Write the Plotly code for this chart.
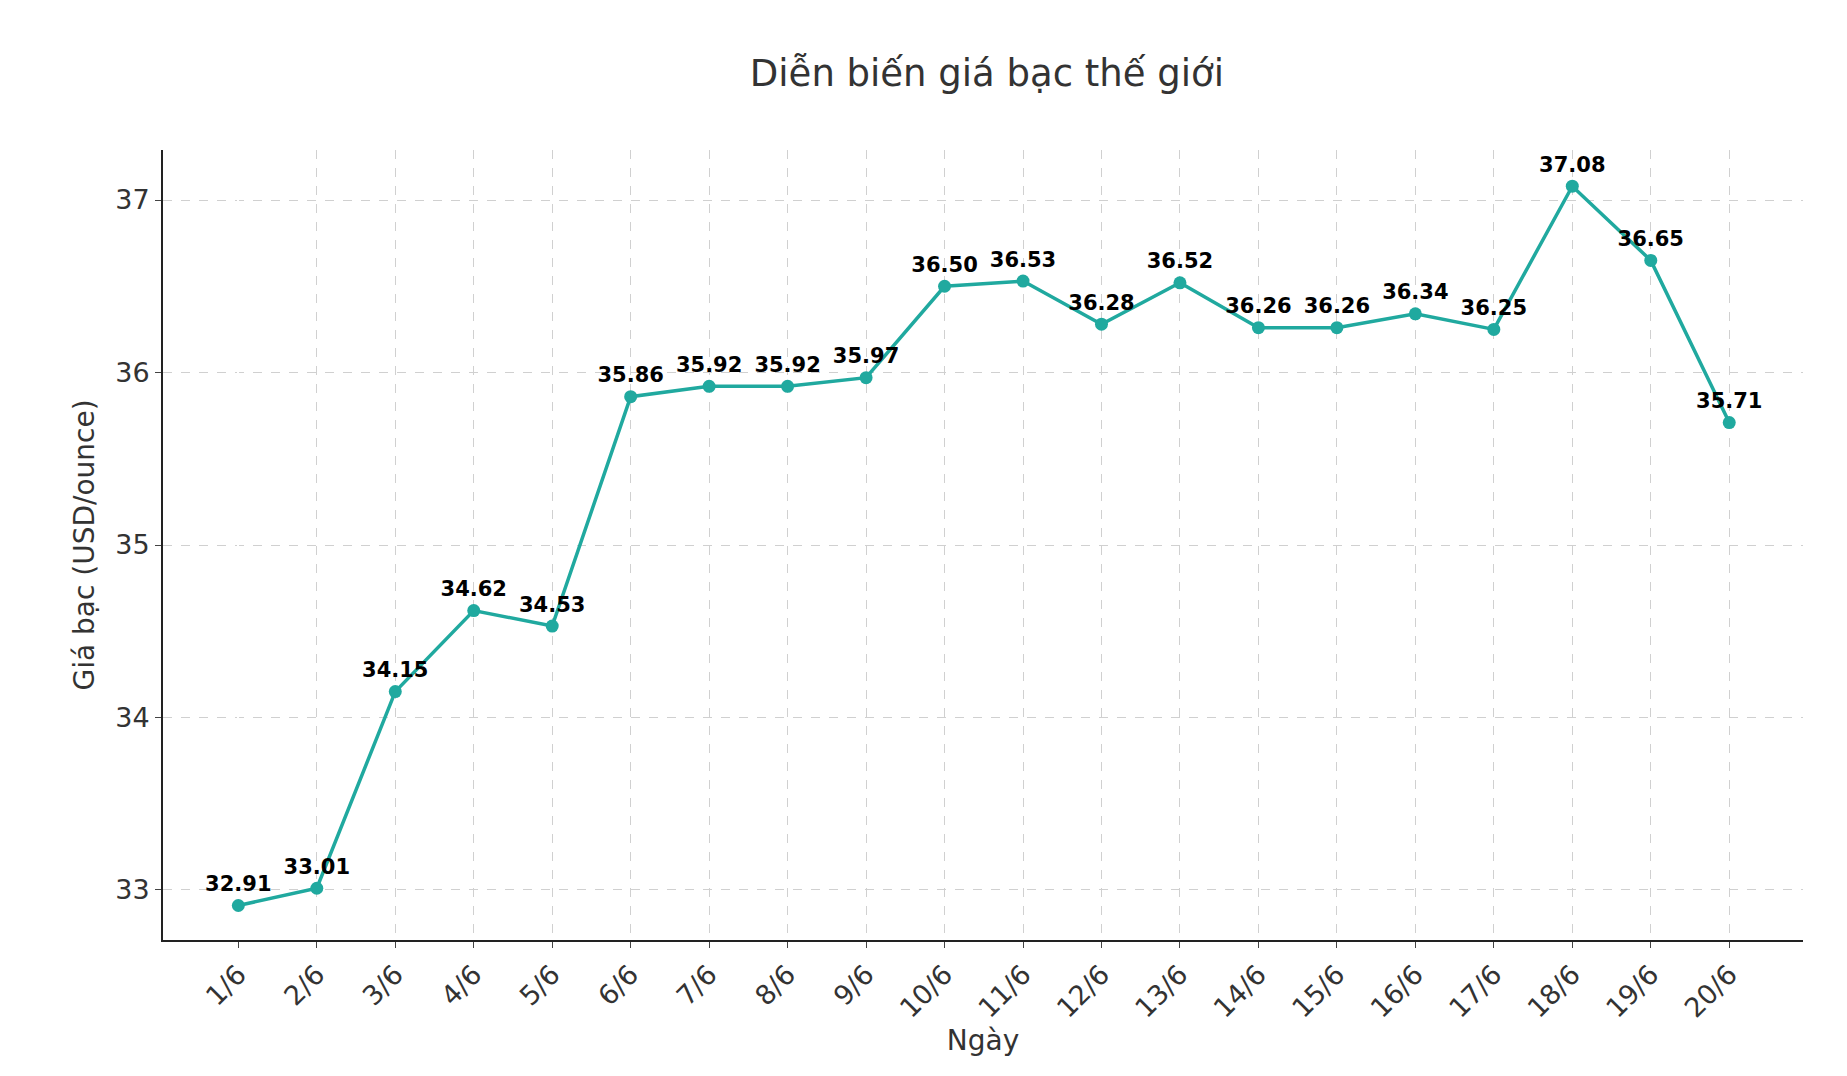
import plotly.graph_objects as go

days = [f"{i}/6" for i in range(1, 21)]
prices = [32.91, 33.01, 34.15, 34.62, 34.53, 35.86, 35.92, 35.92, 35.97, 36.50,
          36.53, 36.28, 36.52, 36.26, 36.26, 36.34, 36.25, 37.08, 36.65, 35.71]
labels = [f"{v:.2f}" for v in prices]

fig = go.Figure(go.Scatter(
    x=list(range(len(days))), y=prices, mode="lines+markers+text",
    line=dict(color="#20a99f", width=3.5), marker=dict(size=13, color="#20a99f"),
    text=["<b>%s</b>" % t for t in labels], textposition="top center",
    textfont=dict(family="DejaVu Sans", size=21, color="black"),
))
fig.update_layout(
    width=1847, height=1076, paper_bgcolor="white", plot_bgcolor="white",
    margin=dict(l=155, r=52, t=142, b=144),
    font=dict(family="DejaVu Sans", color="#333"),
    title=dict(text="Diễn biến giá bạc thế giới", x=0.53, xanchor="center", y=0.952,
               font=dict(size=37, color="#333")),
    showlegend=False,
)
fig.update_xaxes(range=[-0.96, 19.94], tickmode="array", tickvals=list(range(len(days))),
                 ticktext=days, tickangle=-45, tickfont=dict(size=27, color="#333"),
                 showgrid=True, gridcolor="#d0d0d0", griddash="dash", gridwidth=1,
                 showline=True, linecolor="#222", linewidth=2, ticks="outside", ticklen=6,
                 title=dict(text="Ngày", font=dict(size=28, color="#333"), standoff=6))
fig.update_yaxes(range=[32.71, 37.29], tickvals=[33, 34, 35, 36, 37], tickfont=dict(size=27, color="#333"),
                 showgrid=True, gridcolor="#d0d0d0", griddash="dash", gridwidth=1,
                 showline=True, linecolor="#222", linewidth=2, ticks="outside", ticklen=6,
                 zeroline=False,
                 title=dict(text="Giá bạc (USD/ounce)", font=dict(size=28, color="#333"), standoff=12))
fig.write_html("out.html")
